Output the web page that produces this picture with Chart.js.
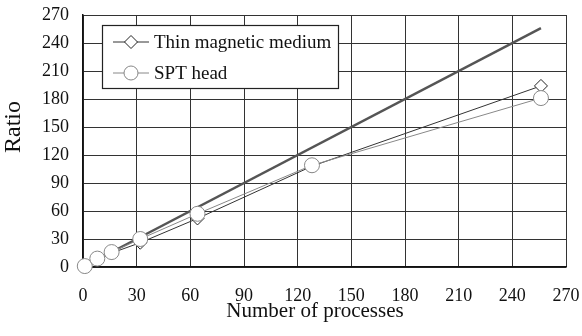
<!DOCTYPE html>
<html>
<head>
<meta charset="utf-8">
<script src="https://cdn.jsdelivr.net/npm/chart.js@4/dist/chart.umd.min.js"></script>
<style>
html,body{margin:0;padding:0;background:#fff;}
#wrap{width:582px;height:336px;}
</style>
</head>
<body>
<div id="wrap"><canvas id="c" width="582" height="336"></canvas></div>
<script>
const processes = [1, 8, 16, 32, 64, 128, 256];
const thinMedium = [1, 8, 15, 26, 52, 108, 194];
const sptHead = [1, 9, 16, 30, 57, 109, 181];
const idealX = [0, 256];
const idealY = [0, 256];
const tickValues = [0, 30, 60, 90, 120, 150, 180, 210, 240, 270];
const seriesNames = ['Thin magnetic medium', 'SPT head'];
const xTitle = 'Number of processes';
const yTitle = 'Ratio';

const FONT = '"Liberation Serif", "Times New Roman", serif';

function pts(xs, ys){ return xs.map((x,i)=>({x:x, y:ys[i]})); }

const legendPlugin = {
  id: 'boxLegend',
  afterDraw(chart){
    const ctx = chart.ctx;
    ctx.save();
    const bx = 102.5, by = 25.5, bw = 236, bh = 63;
    ctx.fillStyle = '#fff';
    ctx.fillRect(bx, by, bw, bh);
    ctx.strokeStyle = '#222';
    ctx.lineWidth = 1.2;
    ctx.strokeRect(bx, by, bw, bh);
    const rows = [
      {y: 42, color: '#333', marker: 'diamond', stroke:'#222'},
      {y: 73, color: '#888', marker: 'circle', stroke:'#888'}
    ];
    rows.forEach((r, i) => {
      ctx.strokeStyle = r.color;
      ctx.lineWidth = 1;
      ctx.beginPath();
      ctx.moveTo(113, r.y); ctx.lineTo(149, r.y); ctx.stroke();
      ctx.fillStyle = '#fff';
      ctx.strokeStyle = r.stroke;
      ctx.beginPath();
      if (r.marker === 'diamond') {
        const s = 6.5;
        ctx.moveTo(131, r.y - s); ctx.lineTo(131 + s, r.y); ctx.lineTo(131, r.y + s); ctx.lineTo(131 - s, r.y); ctx.closePath();
      } else {
        ctx.arc(131, r.y, 7, 0, Math.PI*2);
      }
      ctx.fill(); ctx.stroke();
      ctx.fillStyle = '#111';
      ctx.font = '19px ' + FONT;
      ctx.textBaseline = 'middle';
      ctx.textAlign = 'left';
      ctx.fillText(seriesNames[i], 154, r.y + 1);
    });
    // x title
    ctx.font = '21px ' + FONT;
    ctx.fillStyle = '#111';
    ctx.textAlign = 'center';
    ctx.textBaseline = 'alphabetic';
    ctx.fillText(xTitle, 315, 317);
    // y title
    ctx.translate(14, 127);
    ctx.rotate(-Math.PI/2);
    ctx.font = '24px ' + FONT;
    ctx.textAlign = 'center';
    ctx.textBaseline = 'middle';
    ctx.fillText(yTitle, 0, 0);
    ctx.restore();
  }
};

new Chart(document.getElementById('c'), {
  type: 'scatter',
  data: {
    datasets: [
      {
        label: 'Ideal',
        data: pts(idealX, idealY),
        showLine: true,
        borderColor: '#555',
        borderWidth: 2.5,
        pointRadius: 0,
        clip: false,
        order: 3
      },
      {
        label: seriesNames[0],
        data: pts(processes, thinMedium),
        showLine: true,
        borderColor: '#333',
        borderWidth: 1,
        pointStyle: 'rectRot',
        pointRadius: 6.5,
        pointBackgroundColor: '#fff',
        pointBorderColor: '#222',
        pointBorderWidth: 1,
        clip: false,
        order: 2
      },
      {
        label: seriesNames[1],
        data: pts(processes, sptHead),
        showLine: true,
        borderColor: '#888',
        borderWidth: 1,
        pointStyle: 'circle',
        pointRadius: 7.5,
        pointBackgroundColor: '#fff',
        pointBorderColor: '#888',
        pointBorderWidth: 1,
        clip: false,
        order: 1
      }
    ]
  },
  options: {
    responsive: false,
    animation: false,
    layout: { padding: 0 },
    plugins: { legend: { display: false }, tooltip: { enabled: false } },
    scales: {
      x: {
        type: 'linear', min: 0, max: 270,
        afterBuildTicks(s){ s.ticks = tickValues.map(v=>({value:v})); },
        afterFit(s){ s.height = 69; s.paddingLeft = 0; s.paddingRight = 16; },
        grid: { color: '#333', lineWidth: 1, drawTicks: false },
        border: { color: '#111', width: 1.5 },
        ticks: { color: '#111', font: { family: FONT, size: 18 }, padding: 18, maxRotation: 0 },
        title: { display: false }
      },
      y: {
        type: 'linear', min: 0, max: 270,
        afterBuildTicks(s){ s.ticks = tickValues.map(v=>({value:v})); },
        afterFit(s){ s.width = 83; s.paddingTop = 15; s.paddingBottom = 0; },
        grid: { color: '#333', lineWidth: 1, drawTicks: false },
        border: { color: '#111', width: 1.5 },
        ticks: { color: '#111', font: { family: FONT, size: 18 }, padding: 14 },
        title: { display: false }
      }
    }
  },
  plugins: [legendPlugin]
});
</script>
</body>
</html>
